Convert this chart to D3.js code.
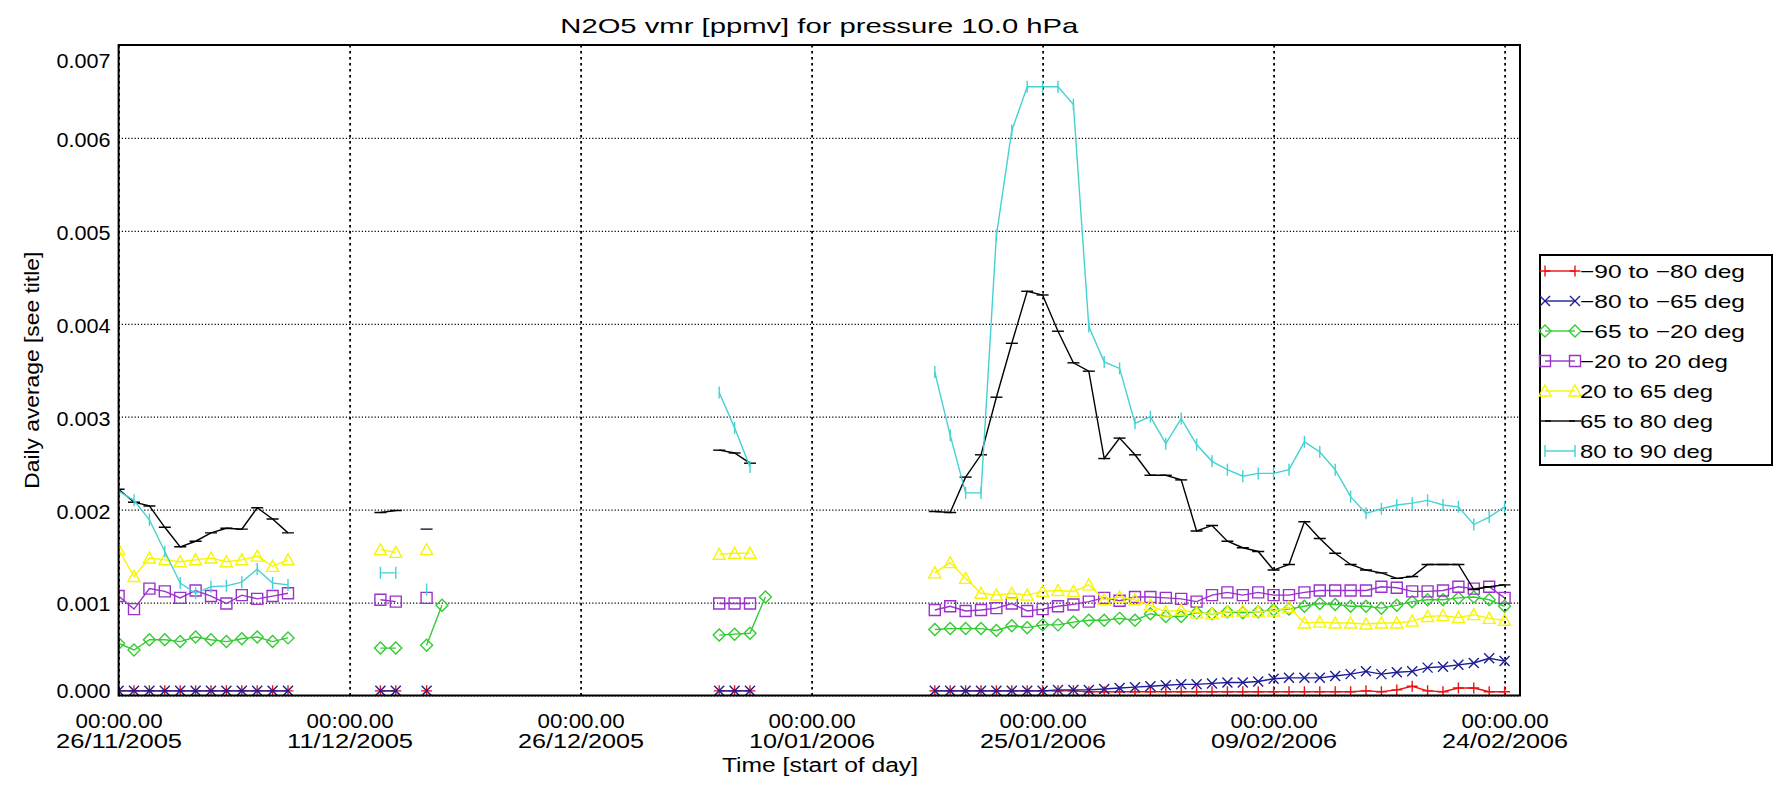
<!DOCTYPE html>
<html>
<head>
<meta charset="utf-8">
<script src="https://cdn.jsdelivr.net/npm/d3@7"></script>
<style>
  body { margin: 0; background: #fff; }
  text { font-family: "Liberation Sans", Arial, sans-serif; fill: #000; }
</style>
</head>
<body>
<svg id="chart" width="1778" height="787"></svg>
<script>
// days after 26/11/2005 that have a daily average
const startDay = '26/11/2005'
const dayOffsets = [0, 1, 2, 3, 4, 5, 6, 7, 8, 9, 10, 11,
  17, 18, 20, 21,
  39, 40, 41, 42,
  53, 54, 55, 56, 57, 58, 59, 60, 61, 62, 63, 64, 65, 66, 67, 68, 69, 70, 71,
  72, 73, 74, 75, 76, 77, 78, 79, 80, 81, 82, 83, 84, 85, 86, 87, 88, 89, 90]

const tickDays = ['26/11/2005', '11/12/2005', '26/12/2005', '10/01/2006', '25/01/2006', '09/02/2006', '24/02/2006']
const tickTimes = ['00:00.00', '00:00.00', '00:00.00', '00:00.00', '00:00.00', '00:00.00', '00:00.00']
const yTicks = [0, 0.001, 0.002, 0.003, 0.004, 0.005, 0.006, 0.007]

const labels = ['−90 to −80 deg', '−80 to −65 deg', '−65 to −20 deg', '−20 to 20 deg', '20 to 65 deg', '65 to 80 deg', '80 to 90 deg']

const south90 = [0.00005, 0.00005, 0.00005, 0.00005, 0.00005, 0.00005, 0.00005, 0.00005, 0.00005, 0.00005, 0.00005, 0.00005,
  0.00005, 0.00005, 0.00005, null,
  0.00005, 0.00005, 0.00005, null,
  0.00005, 0.00005, 0.00005, 0.00005, 0.00005, 0.00005, 0.00005, 0.00005, 0.00005, 0.00005,
  0.00004, 0.00004, 0.00004, 0.00004, 0.00004, 0.00004, 0.00004, 0.00004, 0.00004, 0.00004,
  0.00004, 0.00004, 0.00004, 0.00004, 0.00004, 0.00004, 0.00004,
  0.00004, 0.00005, 0.00004, 0.00006, 0.0001, 0.00005, 0.00004, 0.00008, 0.00008, 0.00004, 0.00004]

const south80 = [0.00005, 0.00005, 0.00005, 0.00005, 0.00005, 0.00005, 0.00005, 0.00005, 0.00005, 0.00005, 0.00005, 0.00005,
  0.00005, 0.00005, 0.00005, null,
  0.00005, 0.00005, 0.00005, null,
  0.00005, 0.00005, 0.00005, 0.00005, 0.00005, 0.00005, 0.00005, 0.00005, 0.00006, 0.00006,
  0.00006, 0.00007, 0.00008, 0.00009, 0.0001, 0.00011, 0.00012, 0.00012, 0.00013, 0.00014,
  0.00014, 0.00015, 0.00018, 0.00019, 0.00019, 0.00019, 0.00021, 0.00023, 0.00026, 0.00023,
  0.00025, 0.00026, 0.0003, 0.00031, 0.00033, 0.00035, 0.0004, 0.00037]

const south65 = [0.00056, 0.00049, 0.0006, 0.0006, 0.00058, 0.00063, 0.0006, 0.00058, 0.00061, 0.00063, 0.00058, 0.00062,
  0.00051, 0.00051, 0.00054, 0.00097,
  0.00065, 0.00066, 0.00067, 0.00106,
  0.00071, 0.00072, 0.00072, 0.00072, 0.0007, 0.00075, 0.00073, 0.00076, 0.00076, 0.00079,
  0.00081, 0.00081, 0.00083, 0.00081, 0.00088, 0.00085, 0.00085, 0.00089, 0.00088, 0.0009,
  0.00089, 0.0009, 0.00092, 0.00093, 0.00096, 0.00099, 0.00098, 0.00096, 0.00096, 0.00094,
  0.00097, 0.00101, 0.00103, 0.00103, 0.00105, 0.00106, 0.00103, 0.00096]

const tropics = [0.00107, 0.00093, 0.00115, 0.00112, 0.00105, 0.00113, 0.00107, 0.00099, 0.00108, 0.00104, 0.00107, 0.0011,
  0.00103, 0.00101, 0.00105, null,
  0.00099, 0.00099, 0.00099, null,
  0.00092, 0.00096, 0.00091, 0.00092, 0.00094, 0.00099, 0.00091, 0.00093, 0.00096, 0.00098,
  0.00101, 0.00105, 0.00102, 0.00106, 0.00106, 0.00105, 0.00104, 0.00101, 0.00108, 0.00111,
  0.00108, 0.00111, 0.00108, 0.00108, 0.00111, 0.00113, 0.00113, 0.00113, 0.00113, 0.00117,
  0.00116, 0.00112, 0.00112, 0.00113, 0.00117, 0.00115, 0.00117, 0.00105]

const north65 = [0.00157, 0.00128, 0.00148, 0.00146, 0.00144, 0.00146, 0.00148, 0.00144, 0.00146, 0.0015, 0.00139, 0.00146,
  0.00157, 0.00154, 0.00157, null,
  0.00152, 0.00153, 0.00153, null,
  0.00132, 0.00143, 0.00126, 0.0011, 0.00108, 0.0011, 0.00108, 0.00112, 0.00113, 0.00112,
  0.00119, 0.00103, 0.00106, 0.00103, 0.00097, 0.0009, 0.00092, 0.00089, 0.00088, 0.0009,
  0.00091, 0.0009, 0.00091, 0.00095, 0.00078, 0.00079, 0.00078, 0.00078, 0.00077, 0.00078,
  0.00078, 0.0008, 0.00085, 0.00086, 0.00084, 0.00087, 0.00083, 0.00081]

const north80 = [0.00222, 0.00208, 0.00204, 0.00181, 0.0016, 0.00166, 0.00175, 0.0018, 0.00179, 0.00202, 0.0019, 0.00175,
  0.00197, 0.00199, 0.00179, null,
  0.00264, 0.00261, 0.0025, null,
  0.00198, 0.00197, 0.00235, 0.00259, 0.00321, 0.00379, 0.00435, 0.00431, 0.00392, 0.00358,
  0.00349, 0.00255, 0.00277, 0.00259, 0.00237, 0.00237, 0.00232, 0.00177, 0.00183, 0.00166,
  0.00159, 0.00155, 0.00135, 0.00141, 0.00187, 0.00169, 0.00153, 0.00141, 0.00135, 0.00132,
  0.00126, 0.00128, 0.00141, 0.00141, 0.00141, 0.00114, 0.00117, 0.00119]

const north90 = [0.0022, 0.0021, 0.00189, 0.00155, 0.00121, 0.0011, 0.00117, 0.00118, 0.00122, 0.00136, 0.00121, 0.00119,
  0.00132, 0.00132, 0.00114, null,
  0.00326, 0.00288, 0.00246, null,
  0.00348, 0.0028, 0.00218, 0.00218, 0.00495, 0.00608, 0.00655, 0.00655, 0.00655, 0.00636,
  0.00397, 0.00359, 0.00352, 0.00293, 0.003, 0.00271, 0.00298, 0.0027, 0.00252, 0.00243,
  0.00236, 0.00239, 0.00239, 0.00243, 0.00273, 0.00262, 0.00243, 0.00214, 0.00196, 0.00201,
  0.00205, 0.00207, 0.0021, 0.00205, 0.00203, 0.00184, 0.00192, 0.00203]

const colors = ['#ee1111', '#1d1d96', '#33cc33', '#9933cc', '#f6f600', '#000000', '#44d2d2']
const markers = ['plus', 'cross', 'diamond', 'square', 'triangle', 'hbar', 'vbar']

;(function drawChart() {
  const X0 = 118.6, X1 = 1520, Y0 = 45, Y1 = 695.5
  const parseDay = d3.timeParse('%d/%m/%Y')
  const start = parseDay(startDay)

  const x = d3.scaleTime()
    .domain([start, d3.timeDay.offset(start, 91)])
    .range([X0, X1])
  const y = d3.scaleLinear()
    .domain([0, 0.007])
    .range([Y1, Y0])

  const svg = d3.select('#chart')

  svg.append('defs').append('clipPath').attr('id', 'plot-clip')
    .append('rect')
    .attr('x', X0).attr('y', Y0)
    .attr('width', X1 - X0).attr('height', Y1 - Y0)

  // title
  svg.append('text')
    .attr('x', (X0 + X1) / 2).attr('y', 33)
    .attr('text-anchor', 'middle')
    .attr('font-size', 21)
    .attr('textLength', 518).attr('lengthAdjust', 'spacingAndGlyphs')
    .text('N2O5 vmr [ppmv] for pressure 10.0 hPa')

  // horizontal grid + y labels (end labels kept inside the axis range)
  const yAxis = svg.append('g')
    .attr('transform', `translate(${X0},0)`)
    .call(d3.axisLeft(y).tickValues(yTicks).tickSize(-(X1 - X0)).tickPadding(8).tickFormat(d3.format('.3f')))
  yAxis.select('.domain').remove()
  yAxis.selectAll('.tick line')
    .attr('stroke', '#000').attr('stroke-width', 1.2).attr('stroke-dasharray', '1.2,2')
  yAxis.selectAll('.tick text')
    .attr('font-size', 20).attr('fill', '#000')
    .attr('font-family', '"Liberation Sans", Arial, sans-serif')
    .attr('textLength', 54).attr('lengthAdjust', 'spacingAndGlyphs')
    .attr('dy', (d) => d === 0.007 ? '1.1em' : d === 0 ? '0.12em' : '0.42em')

  // vertical grid + two-line date labels
  const tickDates = tickDays.map(parseDay)
  const xAxis = svg.append('g')
    .attr('transform', `translate(0,${Y1})`)
    .call(d3.axisBottom(x).tickValues(tickDates).tickSize(-(Y1 - Y0)).tickFormat(() => ''))
  xAxis.select('.domain').remove()
  xAxis.selectAll('.tick line')
    .attr('stroke', '#000').attr('stroke-width', 1.8).attr('stroke-dasharray', '2.5,3.5')
  xAxis.selectAll('.tick text').remove()
  xAxis.selectAll('.tick').each(function (d, i) {
    const g = d3.select(this)
    g.append('text')
      .attr('y', 32).attr('text-anchor', 'middle').attr('font-size', 20)
      .attr('textLength', 87).attr('lengthAdjust', 'spacingAndGlyphs')
      .text(tickTimes[i])
    g.append('text')
      .attr('y', 52).attr('text-anchor', 'middle').attr('font-size', 20)
      .attr('textLength', 126).attr('lengthAdjust', 'spacingAndGlyphs')
      .text(tickDays[i])
  })

  // axis titles
  svg.append('text')
    .attr('x', 820).attr('y', 772)
    .attr('text-anchor', 'middle').attr('font-size', 20)
    .attr('textLength', 196).attr('lengthAdjust', 'spacingAndGlyphs')
    .text('Time [start of day]')
  svg.append('text')
    .attr('transform', `translate(39,${(Y0 + Y1) / 2}) rotate(-90)`)
    .attr('text-anchor', 'middle').attr('font-size', 20)
    .attr('textLength', 237).attr('lengthAdjust', 'spacingAndGlyphs')
    .text('Daily average [see title]')

  const markerPath = {
    plus: 'M-5.5,0H5.5M0,-5.5V5.5',
    cross: 'M-5,-5L5,5M-5,5L5,-5',
    diamond: 'M0,-6L6,0L0,6L-6,0Z',
    square: 'M-5.5,-5.5H5.5V5.5H-5.5Z',
    triangle: 'M0,-6L6,5H-6Z',
    hbar: 'M-6,0H6',
    vbar: 'M0,-6V6'
  }

  const allSeries = [south90, south80, south65, tropics, north65, north80, north90]

  const data = svg.append('g').attr('clip-path', 'url(#plot-clip)')
  const line = d3.line().x((p) => x(p.date)).y((p) => y(p.value))

  allSeries.forEach((values, s) => {
    // split into runs of consecutive days
    const runs = []
    let run = []
    values.forEach((v, i) => {
      if (v === null) { if (run.length) runs.push(run); run = []; return }
      const prev = run[run.length - 1]
      if (prev && dayOffsets[i] - prev.day !== 1) { runs.push(run); run = [] }
      run.push({day: dayOffsets[i], date: d3.timeDay.offset(start, dayOffsets[i]), value: v})
    })
    if (run.length) runs.push(run)

    const g = data.append('g')
      .attr('stroke', colors[s]).attr('fill', 'none').attr('stroke-width', 1.4)

    g.selectAll('path.run')
      .data(runs.filter((r) => r.length > 1))
      .enter().append('path')
      .attr('class', 'run')
      .attr('d', line)

    g.selectAll('path.mark')
      .data(runs.flat())
      .enter().append('path')
      .attr('class', 'mark')
      .attr('transform', (p) => `translate(${x(p.date)},${y(p.value)})`)
      .attr('d', markerPath[markers[s]])
  })

  // plot frame
  svg.append('rect')
    .attr('x', X0).attr('y', Y0)
    .attr('width', X1 - X0).attr('height', Y1 - Y0)
    .attr('fill', 'none').attr('stroke', '#000').attr('stroke-width', 2)

  // legend
  const legend = svg.append('g')
  legend.append('rect')
    .attr('x', 1540).attr('y', 255).attr('width', 232).attr('height', 210)
    .attr('fill', '#fff').attr('stroke', '#000').attr('stroke-width', 2)
  const textWidths = [165, 165, 165, 148, 133, 133, 133]
  labels.forEach((label, i) => {
    const cy = 271 + i * 30
    const item = legend.append('g').attr('stroke', colors[i]).attr('fill', 'none').attr('stroke-width', 1.4)
    item.append('line').attr('x1', 1545).attr('x2', 1575).attr('y1', cy).attr('y2', cy)
    ;[1545, 1575].forEach((mx) => {
      item.append('path').attr('transform', `translate(${mx},${cy})`).attr('d', markerPath[markers[i]])
    })
    legend.append('text')
      .attr('x', 1580).attr('y', cy + 7)
      .attr('font-size', 19)
      .attr('textLength', textWidths[i]).attr('lengthAdjust', 'spacingAndGlyphs')
      .text(label)
  })
})()
</script>
</body>
</html>
